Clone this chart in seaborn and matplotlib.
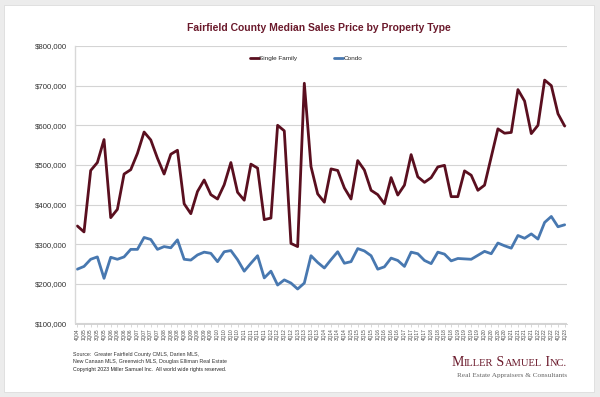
import matplotlib
matplotlib.use("Agg")
import matplotlib.pyplot as plt
import seaborn as sns
import pandas as pd
import numpy as np
from matplotlib.ticker import FuncFormatter

quarters = ["4Q04"] + [f"{q}Q{y:02d}" for y in range(5, 23) for q in range(1, 5)] + ["1Q23"]

single_family = [346000, 331000, 486000, 506000, 564000, 367000, 388000, 477000, 488000, 529000,
                 583000, 563000, 517000, 477000, 527000, 537000, 402000, 377000, 433000, 462000,
                 425000, 414000, 450000, 506000, 431000, 411000, 502000, 492000, 362000, 366000,
                 600000, 586000, 302000, 294000, 706000, 496000, 427000, 406000, 490000, 486000,
                 442000, 414000, 511000, 487000, 436000, 425000, 402000, 468000, 424000, 449000,
                 526000, 470000, 456000, 468000, 495000, 499000, 420000, 420000, 485000, 474000,
                 436000, 449000, 520000, 591000, 580000, 582000, 690000, 661000, 579000, 600000,
                 714000, 700000, 629000, 598000]

condo = [237000, 244000, 262000, 268000, 214000, 267000, 262000, 268000, 287000, 287000,
         317000, 312000, 287000, 294000, 291000, 311000, 262000, 260000, 273000, 280000,
         277000, 256000, 281000, 284000, 261000, 232000, 252000, 271000, 215000, 232000,
         197000, 210000, 202000, 187000, 202000, 271000, 254000, 240000, 261000, 281000,
         252000, 256000, 289000, 283000, 271000, 237000, 243000, 265000, 259000, 244000,
         280000, 276000, 259000, 251000, 280000, 275000, 258000, 264000, 263000, 262000,
         272000, 282000, 276000, 303000, 296000, 290000, 322000, 315000, 326000, 313000,
         355000, 370000, 344000, 349000]

series_names = ["Single Family", "Condo"]
colors = {"Single Family": "#5a0f1f", "Condo": "#4878b0"}

df = pd.DataFrame({
    "idx": list(range(len(quarters))) * 2,
    "value": single_family + condo,
    "series": ["Single Family"] * len(quarters) + ["Condo"] * len(quarters),
})

sns.set_theme(style="white")
plt.rcParams['font.family'] = ['Liberation Sans', 'DejaVu Sans']

fig = plt.figure(figsize=(6, 3.97), dpi=100)
fig.patch.set_facecolor("#ececec")
card = plt.Rectangle((4/600, 5/397), 590/600, 387/397, transform=fig.transFigure,
                     facecolor="white", edgecolor="#dddddd", linewidth=0.6, zorder=-10)
fig.patches.append(card)

ax = fig.add_axes([75/600, 1 - 323.5/397, 492/600, (323.5 - 46)/397])
ax.set_zorder(2)
ax.set_facecolor("none")
sns.lineplot(data=df, x="idx", y="value", hue="series", hue_order=series_names,
             palette=colors, linewidth=2.0, ax=ax, legend=True)

ax.set_ylim(100000, 800000)
ax.set_xlim(-0.35, len(quarters) - 1 + 0.35)
ax.set_yticks(np.arange(100000, 800001, 100000))
ax.yaxis.set_major_formatter(FuncFormatter(lambda v, p: f"${int(v):,}"))
ax.set_xticks(range(len(quarters)))
ax.set_xticklabels(quarters, rotation=90, fontsize=3.4, color="#444444")
ax.tick_params(axis="y", labelsize=5.6, colors="#333333", length=0, pad=6)
ax.tick_params(axis="x", length=2, width=0.4, color="#bbbbbb", pad=1.5, bottom=True)
ax.grid(axis="y", color="#d4d4d4", linewidth=0.8)
ax.grid(axis="x", visible=False)
for s in ["top", "right"]:
    ax.spines[s].set_visible(False)
ax.spines["left"].set_color("#d8d8d8")
ax.spines["left"].set_linewidth(1.0)
ax.spines["bottom"].set_color("#cccccc")
ax.spines["bottom"].set_linewidth(0.6)
ax.set_xlabel("")
ax.set_ylabel("")

leg = ax.legend(loc="upper center", bbox_to_anchor=(0.47, 0.985), ncol=2, frameon=False,
                fontsize=4.6, handlelength=1.4, handletextpad=0.0, columnspacing=5.8)
for line in leg.get_lines():
    line.set_linewidth(2.0)

fig.text(319/600, 1 - 28/397, "Fairfield County Median Sales Price by Property Type",
         ha="center", va="center", fontsize=7.5, fontweight="bold", color="#6b1a2c")

src = ("Source:  Greater Fairfield County CMLS, Darien MLS,\n"
       "New Canaan MLS, Greenwich MLS, Douglas Elliman Real Estate")
fig.text(73/600, 1 - 358/397, src, ha="left", va="center", fontsize=3.75,
         color="#333333", linespacing=1.3)
fig.text(73/600, 1 - 369/397, "Copyright 2023 Miller Samuel Inc.  All world wide rights reserved.",
         ha="left", va="center", fontsize=3.75, color="#222222")

# small-caps logo text
fig.canvas.draw()
renderer = fig.canvas.get_renderer()
pieces = [("M", 10.0), ("ILLER", 7.6), (" S", 10.0), ("AMUEL", 7.6), (" I", 10.0), ("NC.", 7.6)]
arts = []
for txt, fs in pieces:
    t = fig.text(0, 1 - 366.5/397, txt, ha="left", va="baseline", fontsize=fs,
                 color="#6b1a2c", family="Liberation Serif")
    arts.append(t)
widths = [a.get_window_extent(renderer).width for a in arts]
total = sum(widths)
x = 567 - total
for a, w in zip(arts, widths):
    a.set_x(x / 600)
    x += w

fig.text(567/600, 1 - 375/397, "Real Estate Appraisers & Consultants", ha="right", va="center",
         fontsize=5.2, color="#666666", family="Liberation Serif")

fig.savefig("out.png", dpi=100, facecolor=fig.get_facecolor())
